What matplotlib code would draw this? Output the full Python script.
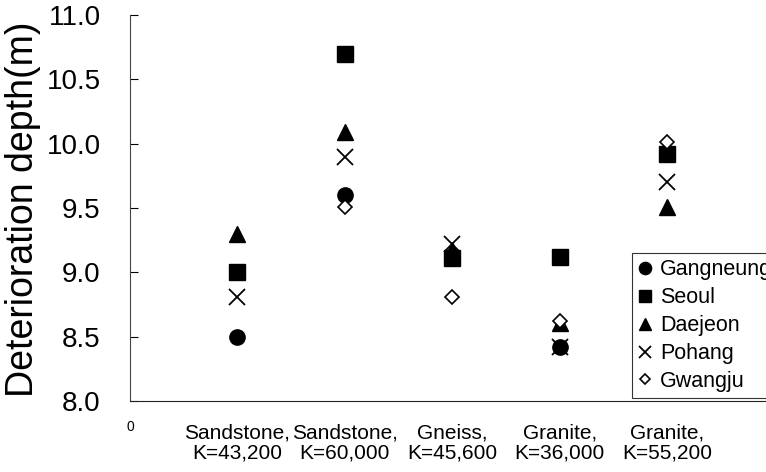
import numpy as np
import matplotlib.pyplot as plt

plt.rcParams['font.family'] = ['Liberation Sans', 'DejaVu Sans']

# data
x_pos = [1, 2, 3, 4, 5]
x_labels = ['Sandstone,\nK=43,200', 'Sandstone,\nK=60,000', 'Gneiss,\nK=45,600',
            'Granite,\nK=36,000', 'Granite,\nK=55,200']
gangneung = [8.50, 9.60, 9.11, 8.42, 9.92]
seoul = [9.00, 10.70, 9.11, 9.12, 9.92]
daejeon = [9.30, 10.09, 9.17, 8.61, 9.51]
pohang = [8.81, 9.90, 9.22, 8.42, 9.70]
gwangju = [np.nan, 9.51, 8.81, 8.62, 10.01]

fig = plt.figure(figsize=(7.66, 4.72), dpi=100)
ax = fig.add_axes([130/766, 71/472, 636/766, 386/472])

ax.plot(x_pos, gangneung, 'o', color='black', ms=11, ls='none', label='Gangneung', zorder=2)
ax.plot(x_pos, seoul, 's', color='black', ms=11, ls='none', label='Seoul', zorder=3)
ax.plot(x_pos, daejeon, '^', color='black', ms=11, ls='none', label='Daejeon', zorder=4)
ax.plot(x_pos, pohang, 'x', color='black', ms=11, mew=1.3, ls='none', label='Pohang', zorder=5)
ax.plot(x_pos, gwangju, 'D', mfc='white', mec='black', ms=7, mew=1.2, ls='none',
        label='Gwangju', zorder=6)

ax.set_xlim(0, 5.92)
ax.set_ylim(8.0, 11.0)
ax.set_yticks(np.arange(8.0, 11.01, 0.5))
ax.set_yticklabels(['%.1f' % v for v in np.arange(8.0, 11.01, 0.5)])
ax.tick_params(axis='y', direction='in', length=6, width=0.8, pad=21, labelsize=20)

ax.set_xticks([0] + x_pos)
ax.set_xticklabels(['0'] + x_labels, fontsize=15, linespacing=1.1)
ax.tick_params(axis='x', length=0, pad=16)
ticks = ax.xaxis.get_major_ticks()
ticks[0].label1.set_fontsize(10)
ticks[0].set_pad(14)

for s in ['top', 'right']:
    ax.spines[s].set_visible(False)
ax.spines['left'].set_color('#444444')
ax.spines['bottom'].set_color('#222222')

ax.set_ylabel('Deterioration depth(m)', fontsize=27)
ax.yaxis.set_label_coords(-0.14, 0.497)

leg = ax.legend(loc='upper left', bbox_to_anchor=(632/766, 1 - 253/472),
                bbox_transform=fig.transFigure, fontsize=15.5, markerscale=0.8,
                frameon=True, fancybox=False, borderaxespad=0, borderpad=0.3,
                labelspacing=0.32, handlelength=0.6, handletextpad=0.4)
leg.get_frame().set_edgecolor('black')
leg.get_frame().set_linewidth(0.8)

fig.savefig('out.png', dpi=100)
